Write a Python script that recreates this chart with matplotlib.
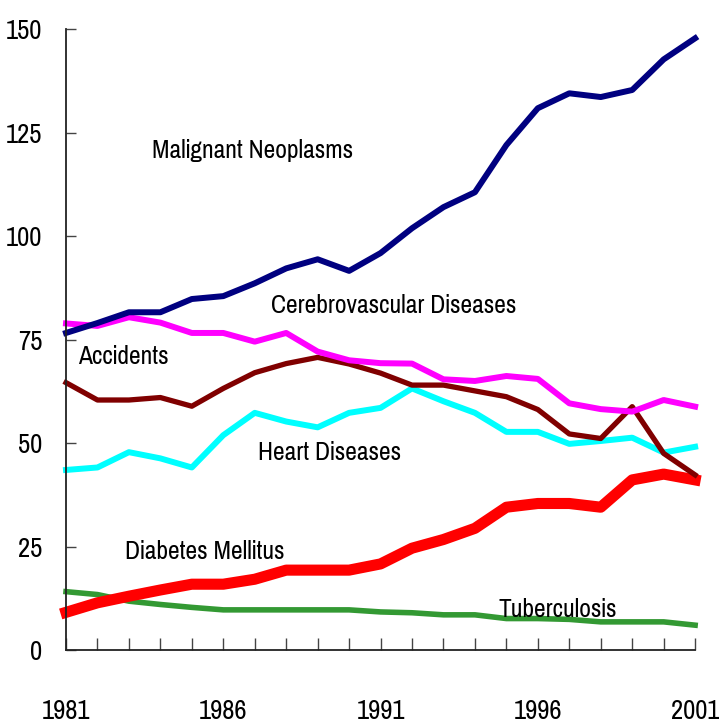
import matplotlib
matplotlib.use('Agg')
import matplotlib.pyplot as plt
from matplotlib import font_manager as fm

# pick a narrow sans font that is installed
have = set(f.name for f in fm.fontManager.ttflist)
wanted = ['Liberation Sans Narrow', 'Arial Narrow', 'Pragati Narrow', 'Archivo Narrow',
          'PT Sans Narrow', 'Roboto Condensed', 'DejaVu Sans']
narrow = [f for f in wanted if f in have]
plt.rcParams['font.family'] = narrow[:1] + ['DejaVu Sans']

years = list(range(1981, 2002))

malignant = [76.6, 79.0, 81.6, 81.6, 84.8, 85.5, 88.6, 92.2, 94.4, 91.6, 95.9,
             101.9, 107.0, 110.6, 122.0, 130.9, 134.5, 133.6, 135.3, 142.7, 147.8]
cerebro = [78.9, 78.3, 80.4, 79.1, 76.6, 76.6, 74.5, 76.6, 72.1, 70.0, 69.3,
           69.2, 65.4, 65.0, 66.2, 65.5, 59.6, 58.2, 57.6, 60.4, 58.8]
accidents = [64.6, 60.4, 60.4, 61.0, 58.9, 63.2, 67.0, 69.2, 70.7, 69.1, 66.9,
             64.0, 64.0, 62.6, 61.2, 58.1, 52.2, 51.1, 58.8, 47.5, 42.3]
heart = [43.5, 44.1, 47.8, 46.3, 44.1, 51.9, 57.3, 55.2, 53.8, 57.3, 58.5,
         63.2, 60.1, 57.3, 52.7, 52.7, 49.8, 50.5, 51.3, 47.7, 49.1]
diabetes = [9.1, 11.4, 13.0, 14.5, 15.9, 15.9, 17.1, 19.3, 19.3, 19.3, 20.8,
            24.6, 26.7, 29.4, 34.5, 35.4, 35.4, 34.5, 41.1, 42.5, 41.1]
tuberculosis = [14.1, 13.4, 11.8, 11.0, 10.3, 9.7, 9.7, 9.7, 9.7, 9.7, 9.2,
                9.0, 8.5, 8.5, 7.6, 7.6, 7.4, 6.8, 6.8, 6.8, 6.0]

labels = ['Malignant Neoplasms', 'Cerebrovascular Diseases', 'Accidents',
          'Heart Diseases', 'Diabetes Mellitus', 'Tuberculosis']
label_pos = [(1983.73, 120.8), (1987.52, 83.3), (1981.38, 71.0),
             (1987.1, 47.8), (1982.88, 23.7), (1994.74, 9.9)]

fig = plt.figure(figsize=(7.19, 7.27), dpi=100)
ax = fig.add_axes([0.0918, 0.1059, 0.875, 0.854])

ax.plot(years, tuberculosis, color='#339933', lw=4.0, clip_on=False)
ax.plot(years, diabetes, color='#ff0000', lw=8.0, clip_on=False)
ax.plot(years, heart, color='#00ffff', lw=4.3, clip_on=False)
ax.plot(years, accidents, color='#800000', lw=3.8, clip_on=False)
ax.plot(years, cerebro, color='#ff00ff', lw=4.3, clip_on=False)
ax.plot(years, malignant, color='#000080', lw=4.3, clip_on=False)

for txt, (x, y) in zip(labels, label_pos):
    ax.text(x, y, txt, fontsize=20, ha='left', va='center', color='black')

ax.set_xlim(1981, 2001)
ax.set_ylim(0, 150)
ax.set_xticks(years)
ax.set_xticklabels([str(y) if (y - 1981) % 5 == 0 else '' for y in years])
ax.set_yticks([0, 25, 50, 75, 100, 125, 150])

for s in ['top', 'right']:
    ax.spines[s].set_visible(False)
for s in ['left', 'bottom']:
    ax.spines[s].set_linewidth(1.3)
    ax.spines[s].set_color('#222222')

ax.tick_params(axis='x', direction='in', length=9, width=1, color='#444444',
               labelsize=21, pad=35)
ax.tick_params(axis='y', direction='in', length=7, width=1, color='#444444',
               labelsize=21, pad=17)

plt.savefig('out.png', dpi=100)
